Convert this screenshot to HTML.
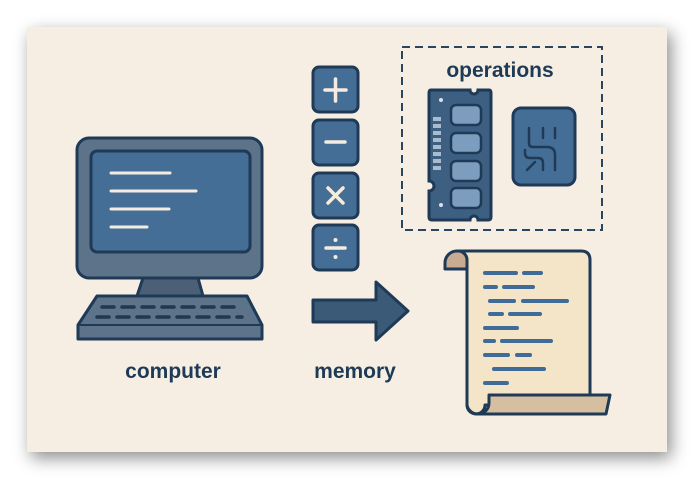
<!DOCTYPE html>
<html><head><meta charset="utf-8"><style>
html,body{margin:0;padding:0;background:#fff;width:694px;height:480px;overflow:hidden}
.card{position:absolute;left:27px;top:27px;width:640px;height:425px;background:#f6eee3;box-shadow:4px 6px 16px rgba(0,0,0,.45)}
svg{position:absolute;left:0;top:0}
text{font-family:"Liberation Sans",sans-serif;fill:#1f3a55;font-size:21px;font-weight:bold}
</style></head><body>
<div class="card"></div>
<svg width="694" height="480" viewBox="0 0 694 480">
<g stroke="#1e3a56" stroke-width="3" stroke-linejoin="round">
<rect x="77" y="138" width="185" height="140" rx="12" fill="#5d7389"/>
<rect x="91" y="151" width="159" height="101" rx="6" fill="#456e96"/>
<path d="M143 278 L198 278 L203 296 L137 296 Z" fill="#4b6077"/>
<path d="M97 296 L247 296 L262 325 L262 339 L78 339 L78 325 Z" fill="#5d7389"/>
<line x1="78" y1="325" x2="262" y2="325" stroke-width="2"/>
</g>
<g stroke="#f4ece0" stroke-width="3" stroke-linecap="round">
<line x1="111" y1="173" x2="170" y2="173"/><line x1="111" y1="191" x2="196" y2="191"/>
<line x1="111" y1="209" x2="169" y2="209"/><line x1="111" y1="227" x2="147" y2="227"/>
</g>
<g stroke="#22384f" stroke-width="3.5" stroke-linecap="round" stroke-dasharray="12 8">
<line x1="102" y1="307" x2="236" y2="307"/><line x1="97" y1="317" x2="242" y2="317"/>
</g>
<g stroke="#1e3a56" stroke-width="3" fill="#456e96">
<rect x="313" y="67" width="45" height="45" rx="6"/>
<rect x="313" y="120" width="45" height="45" rx="6"/>
<rect x="313" y="173" width="45" height="45" rx="6"/>
<rect x="313" y="225" width="45" height="45" rx="6"/>
</g>
<g stroke="#f4ece0" stroke-width="3.5" stroke-linecap="round">
<line x1="325" y1="90" x2="346" y2="90"/><line x1="335.5" y1="79" x2="335.5" y2="101"/>
<line x1="326" y1="142" x2="345" y2="142"/>
<line x1="328" y1="188" x2="343" y2="203"/><line x1="343" y1="188" x2="328" y2="203"/>
<line x1="326" y1="248" x2="345" y2="248"/>
</g>
<circle cx="335.5" cy="240" r="2" fill="#f4ece0"/><circle cx="335.5" cy="257" r="2" fill="#f4ece0"/>
<path d="M313 300 L376 300 L376 282 L408 311 L376 340 L376 322 L313 322 Z" fill="#3a5a78" stroke="#1e3a56" stroke-width="3" stroke-linejoin="round"/>
<text x="173" y="378" text-anchor="middle">computer</text>
<text x="355" y="378" text-anchor="middle">memory</text>
<rect x="402" y="47" width="200" height="183" fill="none" stroke="#2a4560" stroke-width="2" stroke-dasharray="8 5"/>
<text x="500" y="77" text-anchor="middle">operations</text>
<path d="M431 90 L470 90 A4 4 0 0 0 478 90 L489 90 Q491 90 491 93 L491 217 Q491 220 488 220 L478 220 A4 4 0 0 0 470 220 L432 220 Q429 220 429 217 L429 191 A5 5 0 0 0 429 181 L429 93 Q429 90 431 90 Z" fill="#3c5f82" stroke="#1e3a56" stroke-width="3"/>
<g fill="#7c9dbd" stroke="#1e3a56" stroke-width="2.5">
<rect x="451" y="105" width="30" height="20" rx="5"/>
<rect x="451" y="133" width="30" height="20" rx="5"/>
<rect x="451" y="161" width="30" height="20" rx="5"/>
<rect x="451" y="188" width="30" height="20" rx="5"/>
</g>
<g fill="#a9bccd"><rect x="433" y="117" width="8" height="4"/><rect x="433" y="124" width="8" height="4"/><rect x="433" y="131" width="8" height="4"/><rect x="433" y="138" width="8" height="4"/><rect x="433" y="145" width="8" height="4"/><rect x="433" y="152" width="8" height="4"/><rect x="433" y="159" width="8" height="4"/><rect x="433" y="166" width="8" height="4"/></g>
<circle cx="441" cy="100" r="2" fill="#dde"/><circle cx="441" cy="205" r="2" fill="#dde"/>
<rect x="513" y="108" width="62" height="77" rx="8" fill="#456e96" stroke="#1e3a56" stroke-width="3"/>
<g fill="none" stroke="#1e3a56" stroke-width="2.5" stroke-linecap="round">
<path d="M529 128 L529 143 Q529 147 533 147 L547 147 Q555 147 555 155 L555 170"/>
<line x1="543" y1="128" x2="543" y2="138"/><line x1="555" y1="128" x2="555" y2="138"/>
<path d="M525 150 L525 153 Q525 158 530 158 L538 158 Q543 158 543 163 L543 170"/>
<line x1="527" y1="170" x2="535" y2="162"/>
</g>
<path d="M467 260 L467 405 A9 9 0 0 0 485 405 L590 405 L590 260 Q590 251 581 251 L458 251" fill="#f5e5c8" stroke="#1e3a56" stroke-width="3" stroke-linejoin="round"/>
<path d="M458 251 A12 12 0 0 0 445 263 L445 269 L467 269 L467 260 A9 9 0 0 0 458 251 Z" fill="#c8ab90" stroke="#1e3a56" stroke-width="3" stroke-linejoin="round"/>
<path d="M489 395 L610 395 L606 414 L478 414 A11 11 0 0 0 489 403 Z" fill="#d6bea0" stroke="#1e3a56" stroke-width="3" stroke-linejoin="round"/>
<path d="M467 405 A11 11 0 0 0 478 414" fill="none" stroke="#1e3a56" stroke-width="3"/>
<g stroke="#3f6b98" stroke-width="4" stroke-linecap="round">
<line x1="485" y1="273" x2="516" y2="273"/><line x1="524" y1="273" x2="541" y2="273"/>
<line x1="485" y1="287" x2="496" y2="287"/><line x1="504" y1="287" x2="533" y2="287"/>
<line x1="490" y1="301" x2="514" y2="301"/><line x1="523" y1="301" x2="567" y2="301"/>
<line x1="490" y1="314" x2="502" y2="314"/><line x1="510" y1="314" x2="540" y2="314"/>
<line x1="485" y1="328" x2="517" y2="328"/>
<line x1="485" y1="341" x2="494" y2="341"/><line x1="502" y1="341" x2="551" y2="341"/>
<line x1="485" y1="355" x2="508" y2="355"/><line x1="517" y1="355" x2="530" y2="355"/>
<line x1="494" y1="369" x2="544" y2="369"/>
<line x1="485" y1="383" x2="507" y2="383"/>
</g>
</svg>
</body></html>
